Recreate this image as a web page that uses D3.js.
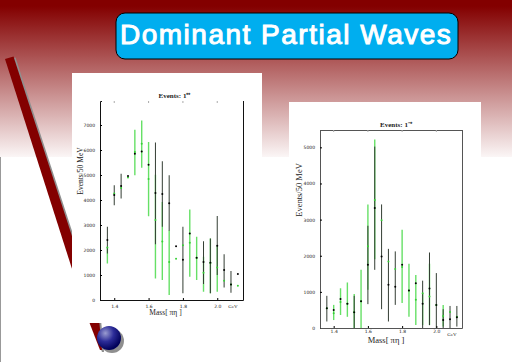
<!DOCTYPE html>
<html lang="en">

<head>
  <meta charset="UTF-8">
  <title>Dominant Partial Waves</title>
  <script src="https://d3js.org/d3.v7.min.js"></script>
  <style>
    body {
      margin: 0;
      background: #fff;
    }

    svg {
      display: block;
    }

    .tick text {
      font-family: "DejaVu Sans", sans-serif;
      font-size: 4.5px;
      fill: #222;
    }
  </style>
</head>

<body>
  <div id="slide"></div>

  <script>
    const title = "Dominant Partial Waves";
    const masses = [1.36, 1.40, 1.44, 1.48, 1.52, 1.56, 1.60, 1.64, 1.68, 1.72, 1.76, 1.80, 1.84, 1.88, 1.92, 1.96, 2.00, 2.04, 2.08, 2.12];
    const xTicks = [1.4, 1.6, 1.8, 2.0];

    // left panel, 1++
    const leftTicks = [0, 1000, 2000, 3000, 4000, 5000, 6000, 7000];
    const leftBlack = [2400, 4200, 4560, 4960, 5850, 5940, 5410, 4280, 4240, 3870, 2150, 1610, 2660, 1690, 1520, 1490, 2170, 1200, 620, 1040];
    const leftBlackLow = [1860, 3790, 4060, null, null, null, null, 2230, 2930, 2770, null, 270, null, null, 640, 270, 1000, 500, 290, null];
    const leftBlackHigh = [2930, 4590, 5050, null, null, null, null, 6300, 5550, 4990, null, 2930, null, null, 2350, 2460, 3360, 1830, 1160, null];
    const leftGreen = [2100, 4260, 4480, 4900, 5920, 6250, 4840, 3200, 2340, 1520, 1650, 2190, 2290, 1680, 1090, 1480, 1300, 770, 620, 570];
    const leftGreenLow = [1460, null, null, null, 4990, 5290, 3350, 860, 800, 200, null, null, 930, 800, 330, 270, 330, null, null, null];
    const leftGreenHigh = [2130, null, null, null, 6810, 7180, 6320, 5010, 3920, 2790, null, null, 3620, 2530, 1730, 2460, 2170, null, null, null];

    // right panel, 1-+
    const rightTicks = [0, 1000, 2000, 3000, 4000, 5000];
    const rightBlack = [550, 500, 805, 670, 435, 740, 1750, 3320, 1980, 1200, 1140, 1750, 1040, 1240, 670, 1090, 640, 220, 240, 300];
    const rightBlackLow = [180, null, null, null, 0, null, 660, 1610, 520, 180, 640, null, null, null, 0, 80, 0, 0, 0, 40];
    const rightBlackHigh = [890, null, null, null, 890, null, 2830, 5020, 3420, 2190, 2120, null, null, null, 1310, 2090, 1520, 520, 610, 610];
    const rightGreen = [550, 410, 720, 670, 435, 740, 2260, 3540, 2980, 1840, 1630, 1690, 1040, 780, 960, 870, 640, 330, 440, 310];
    const rightGreenLow = [null, 220, 360, 310, 0, 0, 1060, 1900, null, null, null, 690, 310, 80, 80, 80, null, 40, null, null];
    const rightGreenHigh = [null, 640, 1100, 1260, 940, 1610, 3420, 5220, null, null, null, 2720, 1780, 1470, 960, 1780, null, 640, null, null];

    const svg = d3.select("#slide")
      .append("svg")
      .attr("width", 512)
      .attr("height", 362);

    const defs = svg.append("defs");

    // Background gradient
    const bg = defs.append("linearGradient")
      .attr("id", "bg")
      .attr("x1", 0).attr("y1", 0).attr("x2", 0).attr("y2", 1);
    bg.append("stop").attr("offset", "0%").attr("stop-color", "#830000");
    bg.append("stop").attr("offset", "4%").attr("stop-color", "#830000");
    bg.append("stop").attr("offset", "100%").attr("stop-color", "#fbf6f6");

    const ball = defs.append("radialGradient")
      .attr("id", "ball")
      .attr("cx", "35%").attr("cy", "30%").attr("r", "70%");
    ball.append("stop").attr("offset", "0%").attr("stop-color", "#9a9cd0");
    ball.append("stop").attr("offset", "50%").attr("stop-color", "#2c2c98");
    ball.append("stop").attr("offset", "100%").attr("stop-color", "#000058");

    svg.append("rect")
      .attr("width", 512)
      .attr("height", 157)
      .attr("fill", "url(#bg)");
    svg.append("rect")
      .attr("x", 0).attr("y", 157)
      .attr("width", 1).attr("height", 205)
      .attr("fill", "#999");

    // Diagonal pointer with its shadow
    const pointer = d3.line();
    svg.append("path")
      .attr("d", pointer([[7, 60], [15.5, 57.5], [101, 320], [104, 352], [102, 352], [90, 320]]) + "Z")
      .attr("fill", "#8f8f8f");
    svg.append("path")
      .attr("d", pointer([[5, 59], [13.5, 56.5], [99, 319], [102, 350], [100, 350], [88, 319]]) + "Z")
      .attr("fill", "#830000");

    // Ball
    svg.append("circle")
      .attr("cx", 112).attr("cy", 341).attr("r", 12)
      .attr("fill", "#8f8f8f");
    svg.append("circle")
      .attr("cx", 109).attr("cy", 338).attr("r", 12)
      .attr("fill", "url(#ball)");

    // Title box
    svg.append("rect")
      .attr("x", 116).attr("y", 13)
      .attr("width", 342).attr("height", 46)
      .attr("rx", 9)
      .attr("fill", "#00aeef")
      .attr("stroke", "#000")
      .attr("stroke-width", 1);
    svg.append("text")
      .attr("x", 120).attr("y", 44)
      .attr("font-family", "Liberation Sans, Arial, sans-serif")
      .attr("font-size", 28)
      .attr("letter-spacing", 1.5)
      .attr("fill", "#fff")
      .attr("stroke", "#fff")
      .attr("stroke-width", 1)
      .text(title);

    // One physics panel
    function drawPanel(o) {
      svg.append("rect")
        .attr("x", o.card[0]).attr("y", o.card[1])
        .attr("width", o.card[2]).attr("height", o.card[3])
        .attr("fill", "#fff");

      const x = d3.scaleLinear().domain(o.xDomain).range([o.left, o.right]);
      const y = d3.scaleLinear().domain(o.yDomain).range([o.bottom, o.top]);

      const drawBars = (low, high, color, w) => {
        svg.append("g").selectAll("line")
          .data(masses.filter((m, i) => low[i] !== null))
          .enter().append("line")
          .attr("x1", d => x(d)).attr("x2", d => x(d))
          .attr("y1", d => y(low[masses.indexOf(d)]))
          .attr("y2", d => y(high[masses.indexOf(d)]))
          .attr("stroke", color)
          .attr("stroke-width", w);
      };

      const drawPoints = (vals, color) => {
        svg.append("g").selectAll("circle")
          .data(vals)
          .enter().append("circle")
          .attr("cx", (d, i) => x(masses[i]))
          .attr("cy", d => y(d))
          .attr("r", 1)
          .attr("fill", color);
      };

      drawBars(o.greenLow, o.greenHigh, "#66e066", 1.4);
      drawBars(o.blackLow, o.blackHigh, "#333d33", 1);
      drawPoints(o.green, "#35d035");
      drawPoints(o.black, "#000");

      const yAxis = svg.append("g")
        .attr("transform", `translate(${o.left},0)`)
        .call(d3.axisLeft(y).tickValues(o.yTicks).tickSize(-2).tickPadding(5).tickFormat(d3.format("d")));
      const xAxis = svg.append("g")
        .attr("transform", `translate(0,${o.bottom})`)
        .call(d3.axisBottom(x).tickValues(xTicks).tickSize(-2).tickPadding(4).tickFormat(d3.format(".1f")));
      yAxis.select(".domain").attr("stroke", o.frameColor);
      xAxis.select(".domain").attr("stroke", o.frameColor);
      xAxis.selectAll(".tick text").attr("y", o.tickY);

      // Frame on the other two sides, with faint ticks on top
      const frame = svg.append("g")
        .attr("stroke", o.frameColor)
        .attr("fill", "none");
      frame.append("line")
        .attr("x1", o.right + 0.5).attr("x2", o.right + 0.5)
        .attr("y1", o.top).attr("y2", o.bottom)
        .attr("shape-rendering", "crispEdges");
      if (o.frameTop) {
        frame.append("line")
          .attr("x1", o.left).attr("x2", o.right)
          .attr("y1", o.top + 0.5).attr("y2", o.top + 0.5)
          .attr("shape-rendering", "crispEdges");
      }
      svg.append("g").selectAll("line")
        .data(xTicks)
        .enter().append("line")
        .attr("x1", d => x(d)).attr("x2", d => x(d))
        .attr("y1", o.top).attr("y2", o.top + 2)
        .attr("stroke", "#aaa");

      const label = (tx, ty, str, size, weight) => svg.append("text")
        .attr("x", tx).attr("y", ty)
        .attr("text-anchor", "middle")
        .attr("font-family", "Liberation Serif, serif")
        .attr("font-size", size)
        .attr("font-weight", weight || "normal")
        .attr("fill", "#222")
        .text(str);

      label((o.left + o.right) / 2 + o.titleDx, o.top - 3.5, o.title, 7, "bold");
      label((o.left + o.right) / 2 + o.massDx, o.bottom + o.massDy, "Mass[ \u03c0\u03b7 ]", o.labelSize);
      label(o.right - 10, o.bottom + 7.5, "GeV", 5);
      label(0, 0, "Events/50 MeV", o.labelSize)
        .attr("transform", `translate(${o.yLabelX},${o.yLabelY}) rotate(-90)`);
    }

    drawPanel({
      card: [72, 73, 190, 250],
      left: 100, right: 243, top: 101, bottom: 300,
      xDomain: [1.317, 2.15], yDomain: [0, 7960],
      yTicks: leftTicks,
      black: leftBlack, blackLow: leftBlackLow, blackHigh: leftBlackHigh,
      green: leftGreen, greenLow: leftGreenLow, greenHigh: leftGreenHigh,
      title: "Events: 1\u207a\u207a", titleDx: 3, massDx: -6, massDy: 15, labelSize: 7.5, tickY: 5,
      yLabelX: 83, yLabelY: 171,
      frameColor: "#111", frameTop: false
    });

    drawPanel({
      card: [289, 102, 192, 260],
      left: 320, right: 462, top: 130, bottom: 328,
      xDomain: [1.32, 2.15], yDomain: [0, 5480],
      yTicks: rightTicks,
      black: rightBlack, blackLow: rightBlackLow, blackHigh: rightBlackHigh,
      green: rightGreen, greenLow: rightGreenLow, greenHigh: rightGreenHigh,
      title: "Events: 1\u207b\u207a", titleDx: 5, massDx: -5, massDy: 15, labelSize: 8.5, tickY: 2,
      yLabelX: 302, yLabelY: 190,
      frameColor: "#555", frameTop: true
    });
  </script>
</body>

</html>
